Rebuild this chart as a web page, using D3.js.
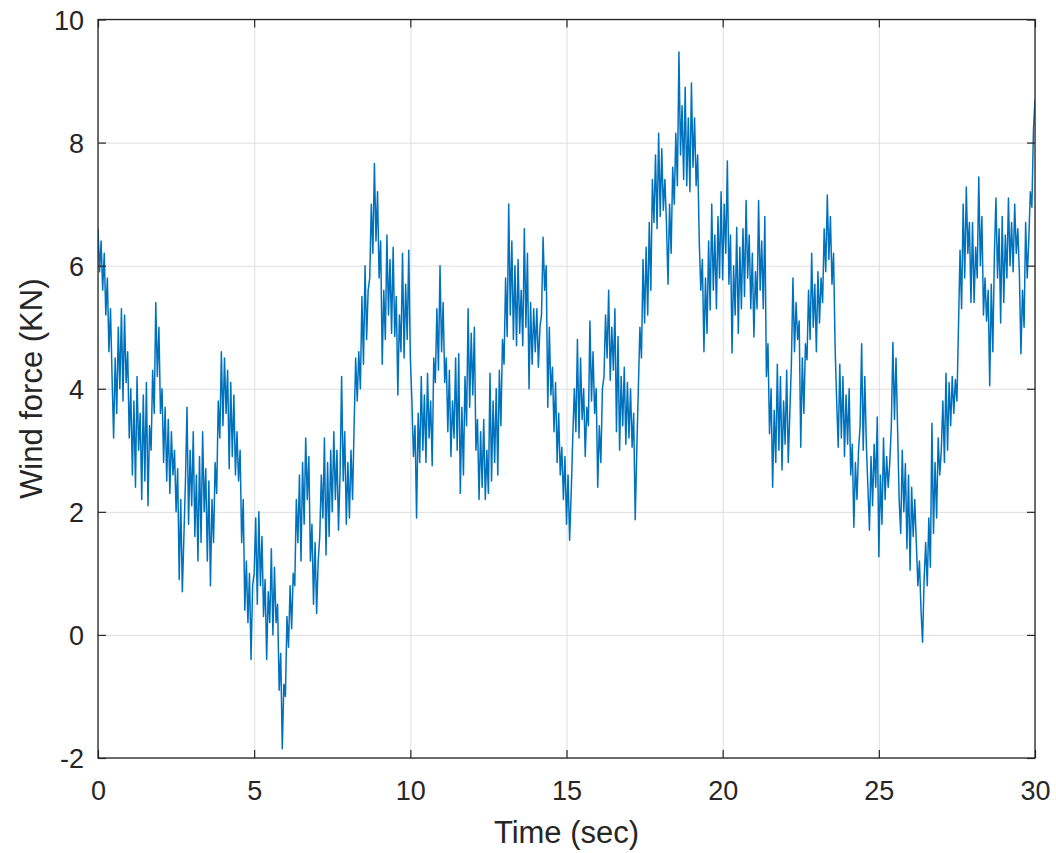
<!DOCTYPE html>
<html>
<head>
<meta charset="utf-8">
<script src="https://cdn.jsdelivr.net/npm/d3@7"></script>
<style>
  html, body { margin: 0; padding: 0; background: #fff; }
  svg { display: block; }
  text { font-family: "Liberation Sans", Arial, Helvetica, sans-serif; fill: #262626; }
</style>
</head>
<body>
<svg id="chart" width="1056" height="853"></svg>
<script>
const tStart = 0;
const tStep = 0.05;
const windForce = [
  6.6, 5.9, 6.4, 5.6, 6.2, 5.2, 5.8, 4.6, 5.3, 4.2,
  3.2, 4.5, 3.6, 5.0, 4.0, 5.3, 3.8, 5.2, 4.1, 4.6,
  3.2, 4.0, 2.6, 3.8, 2.4, 4.2, 3.0, 3.6, 2.2, 3.9,
  2.5, 4.1, 2.1, 3.4, 3.0, 4.3, 3.6, 5.4, 4.2, 5.0,
  3.6, 4.0, 2.8, 3.7, 2.5, 3.5, 2.3, 3.3, 2.6, 3.0,
  2.0, 2.7, 0.9, 2.2, 0.7, 1.6, 2.5, 3.7, 1.8, 3.0,
  2.1, 3.3, 1.6, 2.6, 1.2, 2.9, 1.5, 3.3, 2.0, 2.7,
  1.2, 2.5, 0.8, 2.2, 1.5, 2.8, 2.3, 3.8, 3.2, 4.6,
  3.4, 4.5, 3.6, 4.3, 2.7, 4.1, 2.9, 3.9, 2.6, 3.3,
  2.5, 3.0, 1.5, 2.2, 0.4, 1.2, 0.2, 1.0, -0.4, 0.8,
  1.0, 1.9, 0.5, 2.0, 0.8, 1.6, 0.3, 0.9, -0.4, 0.7,
  0.2, 1.4, 0.0, 1.1, 0.2, 0.5, -0.9, -0.3, -1.85, -0.8,
  -1.0, 0.3, -0.2, 0.8, 0.1, 1.0, 0.8, 2.2, 1.5, 2.6,
  1.2, 2.8, 1.8, 3.2, 2.2, 2.9, 1.2, 1.8, 0.5, 1.5,
  0.35, 1.2, 1.6, 2.6, 1.9, 3.2, 1.3, 2.8, 1.6, 3.0,
  2.0, 3.3, 2.2, 3.0, 1.7, 2.6, 4.2, 2.5, 3.3, 1.8,
  2.8, 1.9, 3.0, 2.2, 3.4, 4.5, 3.8, 4.6, 4.0, 5.5,
  4.4, 6.0, 4.8, 5.6, 5.8, 7.0, 6.2, 7.66, 6.4, 7.2,
  5.8, 6.4, 4.4, 5.6, 4.8, 6.5, 5.2, 6.1, 4.9, 6.3,
  4.85, 5.5, 3.9, 5.2, 4.6, 6.2, 4.5, 5.7, 4.8, 6.25,
  4.5, 3.8, 2.9, 3.4, 1.9, 3.6, 2.8, 4.2, 3.0, 3.9,
  2.8, 4.25, 3.2, 3.8, 2.75, 4.5, 4.1, 5.3, 4.3, 6.0,
  4.6, 5.4, 4.1, 4.5, 3.3, 4.3, 2.9, 3.8, 3.2, 4.5,
  3.0, 4.57, 2.3, 3.7, 2.6, 4.2, 3.4, 5.3, 3.7, 4.9,
  3.9, 5.0, 3.0, 3.5, 2.2, 3.3, 2.4, 3.5, 2.2, 3.0,
  2.3, 4.25, 2.5, 3.8, 2.8, 4.0, 2.6, 4.3, 3.4, 4.8,
  4.4, 5.8, 4.85, 7.0, 5.2, 6.4, 4.8, 6.0, 4.7, 6.1,
  4.9, 5.6, 4.7, 6.6, 5.0, 6.2, 4.0, 5.4, 4.4, 5.3,
  4.6, 5.3, 4.35, 5.0, 5.2, 6.46, 5.6, 6.0, 3.7, 5.0,
  3.9, 4.35, 3.3, 4.1, 2.8, 3.6, 2.6, 3.05, 2.2, 2.9,
  1.8, 2.6, 1.54, 2.3, 3.2, 4.0, 3.3, 4.8, 3.2, 4.5,
  3.5, 4.0, 2.9, 3.7, 3.4, 5.1, 3.8, 4.6, 3.6, 4.0,
  2.4, 3.4, 2.8, 4.0, 4.2, 5.2, 4.5, 5.6, 4.14, 5.0,
  4.3, 5.3, 3.3, 4.85, 3.0, 4.2, 3.4, 4.35, 3.1, 4.1,
  3.2, 4.0, 3.05, 3.6, 1.87, 3.0, 4.0, 5.0, 4.5, 6.1,
  5.07, 6.3, 5.2, 6.7, 5.6, 7.4, 6.7, 7.8, 6.6, 8.15,
  6.8, 7.9, 6.9, 7.4, 6.7, 5.7, 7.0, 6.2, 7.6, 7.0,
  8.15, 7.3, 9.47, 7.8, 8.6, 7.4, 8.9, 7.3, 8.4, 7.2,
  8.97, 7.6, 8.4, 7.3, 7.8, 6.4, 5.6, 6.1, 4.6, 5.8,
  4.9, 6.4, 5.28, 7.0, 5.6, 6.5, 5.3, 6.8, 5.8, 7.2,
  5.77, 7.0, 6.2, 7.7, 5.7, 6.5, 4.58, 6.0, 5.2, 6.62,
  4.9, 6.3, 5.3, 6.6, 5.5, 7.06, 5.8, 6.5, 5.3, 6.2,
  4.84, 5.9, 5.3, 7.06, 5.6, 6.4, 5.3, 6.8, 4.2, 4.73,
  3.27, 4.0, 2.4, 3.65, 2.8, 4.4, 3.0, 4.2, 2.68, 3.8,
  3.1, 4.3, 2.8, 3.6, 4.4, 5.8, 4.6, 5.4, 4.8, 5.1,
  3.05, 4.5, 3.6, 4.73, 4.47, 5.6, 4.8, 6.2, 5.0, 5.7,
  4.6, 5.9, 5.07, 5.8, 5.4, 6.6, 5.9, 7.15, 6.1, 6.8,
  5.7, 6.2, 4.67, 3.8, 3.05, 4.4, 3.2, 4.2, 2.9, 3.9,
  3.1, 4.0, 2.6, 3.1, 1.75, 2.8, 2.2, 3.0, 3.4, 4.73,
  3.0, 4.2, 3.1, 2.4, 1.7, 2.9, 2.1, 3.1, 2.4, 3.54,
  1.27, 2.6, 1.8, 3.2, 2.2, 2.9, 2.4, 2.8, 3.4, 4.75,
  3.5, 4.5, 3.37, 2.2, 1.65, 3.0, 2.0, 2.78, 1.4, 2.6,
  1.05, 2.4, 1.6, 2.2, 1.5, 0.8, 1.2, 0.4, -0.12, 0.9,
  1.5, 0.8, 1.9, 1.1, 3.44, 1.65, 2.8, 1.9, 3.2, 2.6,
  3.0, 3.8, 2.8, 4.25, 3.0, 4.1, 3.4, 4.2, 3.6, 4.15,
  3.8, 5.0, 6.25, 5.3, 7.0, 5.8, 7.28, 6.2, 6.7, 5.4,
  6.7, 5.4, 6.3, 5.8, 7.44, 6.0, 6.8, 5.2, 5.8, 5.1,
  5.6, 4.05, 5.7, 4.6, 6.2, 7.1, 5.8, 6.6, 5.07, 6.8,
  5.4, 6.5, 5.8, 7.1, 6.0, 6.7, 5.9, 7.0, 6.2, 6.6,
  5.87, 4.57, 5.6, 5.0, 6.7, 5.8, 6.4, 7.2, 6.95, 8.2,
  8.7
];
const xTicks = [0, 5, 10, 15, 20, 25, 30];
const yTicks = [-2, 0, 2, 4, 6, 8, 10];
const xLabel = "Time (sec)";
const yLabel = "Wind force (KN)";

const data = windForce.map((v, i) => ({ t: tStart + i * tStep, v }));

// ---- Layout ----
const L = 98, R = 1035, T = 19.5, B = 758;
const W = R - L, H = B - T;

const svg = d3.select("#chart");
const x = d3.scaleLinear().domain([0, 30]).range([L, R]);
const y = d3.scaleLinear().domain([-2, 10]).range([B, T]);
const fmt = d => String(d); // plain hyphen-minus like the reference

// Grid
const grid = svg.append("g");
grid.append("g")
  .attr("transform", `translate(0,${B})`)
  .call(d3.axisBottom(x).tickValues(xTicks).tickSize(-H).tickFormat(""))
  .call(g => g.select(".domain").remove())
  .call(g => g.selectAll("line").attr("stroke", "#dedede").attr("stroke-width", 1));
grid.append("g")
  .attr("transform", `translate(${L},0)`)
  .call(d3.axisLeft(y).tickValues(yTicks).tickSize(-W).tickFormat(""))
  .call(g => g.select(".domain").remove())
  .call(g => g.selectAll("line").attr("stroke", "#dedede").attr("stroke-width", 1));

// Data line
svg.append("defs").append("clipPath").attr("id", "clip")
  .append("rect").attr("x", L).attr("y", T).attr("width", W).attr("height", H);
svg.append("path")
  .datum(data)
  .attr("clip-path", "url(#clip)")
  .attr("fill", "none")
  .attr("stroke", "#0072BD")
  .attr("stroke-width", 1.5)
  .attr("stroke-linejoin", "round")
  .attr("d", d3.line().x(d => x(d.t)).y(d => y(d.v)));

// Axes (inward ticks, box)
const axisColor = "#262626";
const tk = 8;
function styleAxis(g) {
  g.select(".domain").remove();
  g.selectAll(".tick line").attr("stroke", axisColor).attr("stroke-width", 1.2);
}
svg.append("g").attr("transform", `translate(0,${B})`)
  .call(d3.axisBottom(x).tickValues(xTicks).tickSize(-tk).tickPadding(23).tickFormat(fmt))
  .call(styleAxis)
  .call(g => g.selectAll("text").attr("font-size", 27).attr("font-family", "Liberation Sans, Arial, sans-serif").attr("fill", axisColor));
svg.append("g").attr("transform", `translate(0,${T})`)
  .call(d3.axisTop(x).tickValues(xTicks).tickSize(-tk).tickFormat(""))
  .call(styleAxis);
svg.append("g").attr("transform", `translate(${L},0)`)
  .call(d3.axisLeft(y).tickValues(yTicks).tickSize(-tk).tickPadding(14).tickFormat(fmt))
  .call(styleAxis)
  .call(g => g.selectAll("text").attr("font-size", 27).attr("font-family", "Liberation Sans, Arial, sans-serif").attr("fill", axisColor).attr("dy", "0.36em"));
svg.append("g").attr("transform", `translate(${R},0)`)
  .call(d3.axisRight(y).tickValues(yTicks).tickSize(-tk).tickFormat(""))
  .call(styleAxis);

svg.append("rect")
  .attr("x", L).attr("y", T).attr("width", W).attr("height", H)
  .attr("fill", "none").attr("stroke", axisColor).attr("stroke-width", 1.3);

// Axis labels
svg.append("text")
  .attr("x", (L + R) / 2).attr("y", 843)
  .attr("text-anchor", "middle")
  .attr("font-size", 31)
  .text(xLabel);
svg.append("text")
  .attr("transform", `translate(42,${(T + B) / 2}) rotate(-90)`)
  .attr("text-anchor", "middle")
  .attr("font-size", 31)
  .text(yLabel);
</script>
</body>
</html>
